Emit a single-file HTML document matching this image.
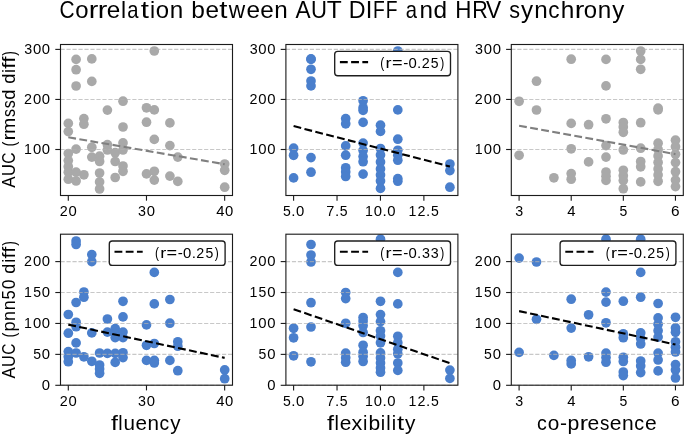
<!DOCTYPE html><html><head><meta charset="utf-8"><style>html,body{margin:0;padding:0;background:#fff;}svg{display:block;will-change:transform;}text{font-family:"Liberation Sans", sans-serif;fill:#000;font-kerning:none;}</style></head><body>
<svg width="685" height="435" viewBox="0 0 685 435">
<rect width="685" height="435" fill="#fff"/>
<g font-size="23.60"><text x="59.44" y="18.10" textLength="15.08" lengthAdjust="spacingAndGlyphs">C</text><text x="75.16" y="18.10" textLength="13.30" lengthAdjust="spacingAndGlyphs">o</text><text x="88.84" y="18.10" textLength="9.60" lengthAdjust="spacingAndGlyphs">r</text><text x="97.82" y="18.10" textLength="9.60" lengthAdjust="spacingAndGlyphs">r</text><text x="106.76" y="18.10" textLength="13.51" lengthAdjust="spacingAndGlyphs">e</text><text x="120.91" y="18.10" textLength="5.11" lengthAdjust="spacingAndGlyphs">l</text><text x="127.15" y="18.10" textLength="11.25" lengthAdjust="spacingAndGlyphs">a</text><text x="140.68" y="18.10" textLength="8.20" lengthAdjust="spacingAndGlyphs">t</text><text x="149.89" y="18.10" textLength="5.11" lengthAdjust="spacingAndGlyphs">i</text><text x="155.87" y="18.10" textLength="13.30" lengthAdjust="spacingAndGlyphs">o</text><text x="169.85" y="18.10" textLength="13.48" lengthAdjust="spacingAndGlyphs">n</text><text x="191.39" y="18.10" textLength="13.61" lengthAdjust="spacingAndGlyphs">b</text><text x="205.43" y="18.10" textLength="13.51" lengthAdjust="spacingAndGlyphs">e</text><text x="219.23" y="18.10" textLength="8.20" lengthAdjust="spacingAndGlyphs">t</text><text x="228.84" y="18.10" textLength="16.42" lengthAdjust="spacingAndGlyphs">w</text><text x="246.54" y="18.10" textLength="13.51" lengthAdjust="spacingAndGlyphs">e</text><text x="260.33" y="18.10" textLength="13.51" lengthAdjust="spacingAndGlyphs">e</text><text x="274.34" y="18.10" textLength="13.48" lengthAdjust="spacingAndGlyphs">n</text><text x="295.54" y="18.10" textLength="15.11" lengthAdjust="spacingAndGlyphs">A</text><text x="311.09" y="18.10" textLength="15.96" lengthAdjust="spacingAndGlyphs">U</text><text x="326.67" y="18.10" textLength="14.98" lengthAdjust="spacingAndGlyphs">T</text><text x="348.71" y="18.10" textLength="16.80" lengthAdjust="spacingAndGlyphs">D</text><text x="365.76" y="18.10" textLength="6.61" lengthAdjust="spacingAndGlyphs">I</text><text x="372.95" y="18.10" textLength="11.77" lengthAdjust="spacingAndGlyphs">F</text><text x="385.85" y="18.10" textLength="11.77" lengthAdjust="spacingAndGlyphs">F</text><text x="405.83" y="18.10" textLength="11.25" lengthAdjust="spacingAndGlyphs">a</text><text x="419.56" y="18.10" textLength="13.48" lengthAdjust="spacingAndGlyphs">n</text><text x="433.64" y="18.10" textLength="13.59" lengthAdjust="spacingAndGlyphs">d</text><text x="455.30" y="18.10" textLength="16.16" lengthAdjust="spacingAndGlyphs">H</text><text x="472.20" y="18.10" textLength="15.53" lengthAdjust="spacingAndGlyphs">R</text><text x="486.12" y="18.10" textLength="15.22" lengthAdjust="spacingAndGlyphs">V</text><text x="509.31" y="18.10" textLength="10.78" lengthAdjust="spacingAndGlyphs">s</text><text x="521.07" y="18.10" textLength="12.08" lengthAdjust="spacingAndGlyphs">y</text><text x="534.17" y="18.10" textLength="13.48" lengthAdjust="spacingAndGlyphs">n</text><text x="548.31" y="18.10" textLength="11.28" lengthAdjust="spacingAndGlyphs">c</text><text x="560.78" y="18.10" textLength="13.58" lengthAdjust="spacingAndGlyphs">h</text><text x="574.85" y="18.10" textLength="9.60" lengthAdjust="spacingAndGlyphs">r</text><text x="583.82" y="18.10" textLength="13.30" lengthAdjust="spacingAndGlyphs">o</text><text x="597.80" y="18.10" textLength="13.48" lengthAdjust="spacingAndGlyphs">n</text><text x="612.27" y="18.10" textLength="12.08" lengthAdjust="spacingAndGlyphs">y</text></g>
<g font-size="17.70" transform="rotate(-90)"><text x="-187.63" y="14.60" textLength="11.29" lengthAdjust="spacingAndGlyphs">A</text><text x="-176.08" y="14.60" textLength="11.93" lengthAdjust="spacingAndGlyphs">U</text><text x="-163.76" y="14.60" textLength="11.27" lengthAdjust="spacingAndGlyphs">C</text><text x="-146.46" y="14.60" textLength="4.73" lengthAdjust="spacingAndGlyphs">(</text><text x="-140.50" y="14.60" textLength="7.17" lengthAdjust="spacingAndGlyphs">r</text><text x="-133.66" y="14.60" textLength="15.95" lengthAdjust="spacingAndGlyphs">m</text><text x="-117.07" y="14.60" textLength="8.05" lengthAdjust="spacingAndGlyphs">s</text><text x="-108.25" y="14.60" textLength="8.05" lengthAdjust="spacingAndGlyphs">s</text><text x="-99.73" y="14.60" textLength="10.16" lengthAdjust="spacingAndGlyphs">d</text><text x="-83.85" y="14.60" textLength="10.16" lengthAdjust="spacingAndGlyphs">d</text><text x="-72.99" y="14.60" textLength="3.82" lengthAdjust="spacingAndGlyphs">i</text><text x="-68.69" y="14.60" textLength="6.13" lengthAdjust="spacingAndGlyphs">f</text><text x="-62.76" y="14.60" textLength="6.13" lengthAdjust="spacingAndGlyphs">f</text><text x="-55.65" y="14.60" textLength="4.73" lengthAdjust="spacingAndGlyphs">)</text></g>
<g font-size="17.70" transform="rotate(-90)"><text x="-378.53" y="14.60" textLength="11.23" lengthAdjust="spacingAndGlyphs">A</text><text x="-367.04" y="14.60" textLength="11.86" lengthAdjust="spacingAndGlyphs">U</text><text x="-354.79" y="14.60" textLength="11.20" lengthAdjust="spacingAndGlyphs">C</text><text x="-337.59" y="14.60" textLength="4.72" lengthAdjust="spacingAndGlyphs">(</text><text x="-331.40" y="14.60" textLength="10.11" lengthAdjust="spacingAndGlyphs">p</text><text x="-320.90" y="14.60" textLength="10.02" lengthAdjust="spacingAndGlyphs">n</text><text x="-310.37" y="14.60" textLength="10.02" lengthAdjust="spacingAndGlyphs">n</text><text x="-299.54" y="14.60" textLength="9.25" lengthAdjust="spacingAndGlyphs">5</text><text x="-289.22" y="14.60" textLength="9.80" lengthAdjust="spacingAndGlyphs">0</text><text x="-273.68" y="14.60" textLength="10.10" lengthAdjust="spacingAndGlyphs">d</text><text x="-262.87" y="14.60" textLength="3.80" lengthAdjust="spacingAndGlyphs">i</text><text x="-258.59" y="14.60" textLength="6.10" lengthAdjust="spacingAndGlyphs">f</text><text x="-252.70" y="14.60" textLength="6.10" lengthAdjust="spacingAndGlyphs">f</text><text x="-245.63" y="14.60" textLength="4.72" lengthAdjust="spacingAndGlyphs">)</text></g>
<g font-size="20.60"><text x="111.04" y="429.80" textLength="6.99" lengthAdjust="spacingAndGlyphs">f</text><text x="118.34" y="429.80" textLength="4.35" lengthAdjust="spacingAndGlyphs">l</text><text x="123.56" y="429.80" textLength="11.49" lengthAdjust="spacingAndGlyphs">u</text><text x="135.52" y="429.80" textLength="11.51" lengthAdjust="spacingAndGlyphs">e</text><text x="147.54" y="429.80" textLength="11.49" lengthAdjust="spacingAndGlyphs">n</text><text x="159.48" y="429.80" textLength="9.61" lengthAdjust="spacingAndGlyphs">c</text><text x="170.35" y="429.80" textLength="10.29" lengthAdjust="spacingAndGlyphs">y</text></g>
<g font-size="20.60"><text x="327.14" y="429.80" textLength="7.07" lengthAdjust="spacingAndGlyphs">f</text><text x="334.52" y="429.80" textLength="4.40" lengthAdjust="spacingAndGlyphs">l</text><text x="339.69" y="429.80" textLength="11.64" lengthAdjust="spacingAndGlyphs">e</text><text x="351.41" y="429.80" textLength="10.75" lengthAdjust="spacingAndGlyphs">x</text><text x="363.06" y="429.80" textLength="4.40" lengthAdjust="spacingAndGlyphs">i</text><text x="368.44" y="429.80" textLength="11.72" lengthAdjust="spacingAndGlyphs">b</text><text x="380.87" y="429.80" textLength="4.40" lengthAdjust="spacingAndGlyphs">i</text><text x="386.34" y="429.80" textLength="4.40" lengthAdjust="spacingAndGlyphs">l</text><text x="391.83" y="429.80" textLength="4.40" lengthAdjust="spacingAndGlyphs">i</text><text x="396.96" y="429.80" textLength="7.15" lengthAdjust="spacingAndGlyphs">t</text><text x="404.94" y="429.80" textLength="10.40" lengthAdjust="spacingAndGlyphs">y</text></g>
<g font-size="20.60"><text x="536.97" y="429.80" textLength="9.81" lengthAdjust="spacingAndGlyphs">c</text><text x="547.74" y="429.80" textLength="11.56" lengthAdjust="spacingAndGlyphs">o</text><text x="559.99" y="429.80" textLength="7.02" lengthAdjust="spacingAndGlyphs">-</text><text x="567.54" y="429.80" textLength="11.83" lengthAdjust="spacingAndGlyphs">p</text><text x="579.69" y="429.80" textLength="8.34" lengthAdjust="spacingAndGlyphs">r</text><text x="587.55" y="429.80" textLength="11.74" lengthAdjust="spacingAndGlyphs">e</text><text x="599.98" y="429.80" textLength="9.37" lengthAdjust="spacingAndGlyphs">s</text><text x="609.80" y="429.80" textLength="11.74" lengthAdjust="spacingAndGlyphs">e</text><text x="622.06" y="429.80" textLength="11.72" lengthAdjust="spacingAndGlyphs">n</text><text x="634.25" y="429.80" textLength="9.81" lengthAdjust="spacingAndGlyphs">c</text><text x="644.99" y="429.80" textLength="11.74" lengthAdjust="spacingAndGlyphs">e</text></g>
<clipPath id="c00"><rect x="60.50" y="44.50" width="172.00" height="151.00"/></clipPath>
<g clip-path="url(#c00)" fill="#a9a9a9"><circle cx="76.1" cy="59.4" r="4.85"/><circle cx="91.8" cy="58.9" r="4.85"/><circle cx="76.1" cy="69.7" r="4.85"/><circle cx="91.8" cy="81.4" r="4.85"/><circle cx="76.1" cy="86.0" r="4.85"/><circle cx="123.0" cy="101.2" r="4.85"/><circle cx="107.4" cy="110.1" r="4.85"/><circle cx="154.3" cy="51.0" r="4.85"/><circle cx="154.3" cy="109.9" r="4.85"/><circle cx="146.5" cy="107.8" r="4.85"/><circle cx="68.3" cy="123.4" r="4.85"/><circle cx="68.3" cy="131.6" r="4.85"/><circle cx="83.9" cy="118.6" r="4.85"/><circle cx="83.9" cy="124.2" r="4.85"/><circle cx="68.3" cy="153.5" r="4.85"/><circle cx="68.3" cy="160.6" r="4.85"/><circle cx="68.3" cy="166.8" r="4.85"/><circle cx="68.3" cy="172.2" r="4.85"/><circle cx="68.3" cy="179.2" r="4.85"/><circle cx="76.1" cy="149.1" r="4.85"/><circle cx="76.1" cy="172.2" r="4.85"/><circle cx="76.1" cy="181.0" r="4.85"/><circle cx="83.9" cy="174.8" r="4.85"/><circle cx="91.8" cy="147.3" r="4.85"/><circle cx="91.8" cy="157.1" r="4.85"/><circle cx="99.6" cy="156.2" r="4.85"/><circle cx="99.6" cy="161.5" r="4.85"/><circle cx="99.6" cy="173.0" r="4.85"/><circle cx="99.6" cy="181.9" r="4.85"/><circle cx="99.6" cy="189.0" r="4.85"/><circle cx="107.4" cy="144.7" r="4.85"/><circle cx="107.4" cy="150.0" r="4.85"/><circle cx="115.2" cy="152.7" r="4.85"/><circle cx="115.2" cy="161.5" r="4.85"/><circle cx="115.2" cy="177.5" r="4.85"/><circle cx="123.0" cy="127.0" r="4.85"/><circle cx="123.0" cy="142.9" r="4.85"/><circle cx="123.0" cy="150.0" r="4.85"/><circle cx="123.0" cy="166.0" r="4.85"/><circle cx="123.0" cy="171.3" r="4.85"/><circle cx="146.5" cy="122.2" r="4.85"/><circle cx="146.5" cy="173.9" r="4.85"/><circle cx="169.9" cy="122.9" r="4.85"/><circle cx="154.3" cy="139.4" r="4.85"/><circle cx="169.9" cy="145.6" r="4.85"/><circle cx="177.8" cy="157.1" r="4.85"/><circle cx="224.7" cy="164.0" r="4.85"/><circle cx="224.7" cy="170.3" r="4.85"/><circle cx="154.3" cy="171.3" r="4.85"/><circle cx="154.3" cy="180.1" r="4.85"/><circle cx="169.9" cy="176.1" r="4.85"/><circle cx="177.8" cy="181.4" r="4.85"/><circle cx="224.7" cy="187.2" r="4.85"/></g>
<line x1="60.50" y1="149.50" x2="232.50" y2="149.50" stroke="#b0b0b0" stroke-opacity="0.7" stroke-width="1.1" stroke-dasharray="4.18 1.803"/>
<line x1="60.50" y1="99.45" x2="232.50" y2="99.45" stroke="#b0b0b0" stroke-opacity="0.7" stroke-width="1.1" stroke-dasharray="4.18 1.803"/>
<line x1="60.50" y1="49.40" x2="232.50" y2="49.40" stroke="#b0b0b0" stroke-opacity="0.7" stroke-width="1.1" stroke-dasharray="4.18 1.803"/>
<line x1="68.30" y1="137.30" x2="224.66" y2="164.20" stroke="#808080" stroke-width="2.1" stroke-dasharray="7.83 3.39" clip-path="url(#c00)"/>
<rect x="60.50" y="44.50" width="172.00" height="151.00" fill="none" stroke="#1c1c1c" stroke-width="1.12"/>
<line x1="68.30" y1="195.50" x2="68.30" y2="200.70" stroke="#1c1c1c" stroke-width="1.12"/>
<g font-size="15.10"><text x="59.63" y="215.70" textLength="7.97" lengthAdjust="spacingAndGlyphs">2</text><text x="68.56" y="215.70" textLength="8.27" lengthAdjust="spacingAndGlyphs">0</text></g>
<line x1="146.48" y1="195.50" x2="146.48" y2="200.70" stroke="#1c1c1c" stroke-width="1.12"/>
<g font-size="15.10"><text x="138.01" y="215.70" textLength="7.94" lengthAdjust="spacingAndGlyphs">3</text><text x="146.72" y="215.70" textLength="8.27" lengthAdjust="spacingAndGlyphs">0</text></g>
<line x1="224.66" y1="195.50" x2="224.66" y2="200.70" stroke="#1c1c1c" stroke-width="1.12"/>
<g font-size="15.10"><text x="216.20" y="215.70" textLength="8.27" lengthAdjust="spacingAndGlyphs">4</text><text x="225.09" y="215.70" textLength="8.27" lengthAdjust="spacingAndGlyphs">0</text></g>
<line x1="55.30" y1="149.50" x2="60.50" y2="149.50" stroke="#1c1c1c" stroke-width="1.12"/>
<g font-size="15.10"><text x="24.07" y="154.20" textLength="7.90" lengthAdjust="spacingAndGlyphs">1</text><text x="32.97" y="154.20" textLength="8.27" lengthAdjust="spacingAndGlyphs">0</text><text x="41.86" y="154.20" textLength="8.27" lengthAdjust="spacingAndGlyphs">0</text></g>
<line x1="55.30" y1="99.45" x2="60.50" y2="99.45" stroke="#1c1c1c" stroke-width="1.12"/>
<g font-size="15.10"><text x="24.04" y="104.15" textLength="7.97" lengthAdjust="spacingAndGlyphs">2</text><text x="32.97" y="104.15" textLength="8.27" lengthAdjust="spacingAndGlyphs">0</text><text x="41.86" y="104.15" textLength="8.27" lengthAdjust="spacingAndGlyphs">0</text></g>
<line x1="55.30" y1="49.40" x2="60.50" y2="49.40" stroke="#1c1c1c" stroke-width="1.12"/>
<g font-size="15.10"><text x="24.26" y="54.10" textLength="7.94" lengthAdjust="spacingAndGlyphs">3</text><text x="32.97" y="54.10" textLength="8.27" lengthAdjust="spacingAndGlyphs">0</text><text x="41.86" y="54.10" textLength="8.27" lengthAdjust="spacingAndGlyphs">0</text></g>
<clipPath id="c01"><rect x="285.90" y="44.50" width="172.00" height="151.00"/></clipPath>
<g clip-path="url(#c01)" fill="#4a7fcc"><circle cx="293.6" cy="148.2" r="4.85"/><circle cx="293.6" cy="155.3" r="4.85"/><circle cx="293.6" cy="177.9" r="4.85"/><circle cx="311.0" cy="58.9" r="4.85"/><circle cx="311.0" cy="59.4" r="4.85"/><circle cx="311.0" cy="69.3" r="4.85"/><circle cx="311.0" cy="81.0" r="4.85"/><circle cx="311.0" cy="85.9" r="4.85"/><circle cx="311.0" cy="157.6" r="4.85"/><circle cx="311.0" cy="172.2" r="4.85"/><circle cx="345.7" cy="118.6" r="4.85"/><circle cx="345.7" cy="123.8" r="4.85"/><circle cx="345.7" cy="145.9" r="4.85"/><circle cx="345.7" cy="155.2" r="4.85"/><circle cx="345.7" cy="167.8" r="4.85"/><circle cx="345.7" cy="172.0" r="4.85"/><circle cx="345.7" cy="176.5" r="4.85"/><circle cx="363.1" cy="100.8" r="4.85"/><circle cx="363.1" cy="107.8" r="4.85"/><circle cx="363.1" cy="110.4" r="4.85"/><circle cx="363.1" cy="122.4" r="4.85"/><circle cx="363.1" cy="143.1" r="4.85"/><circle cx="363.1" cy="150.5" r="4.85"/><circle cx="363.1" cy="156.6" r="4.85"/><circle cx="363.1" cy="161.7" r="4.85"/><circle cx="363.1" cy="174.1" r="4.85"/><circle cx="380.5" cy="125.2" r="4.85"/><circle cx="380.5" cy="131.4" r="4.85"/><circle cx="380.5" cy="148.5" r="4.85"/><circle cx="380.5" cy="155.0" r="4.85"/><circle cx="380.5" cy="162.0" r="4.85"/><circle cx="380.5" cy="169.0" r="4.85"/><circle cx="380.5" cy="175.0" r="4.85"/><circle cx="380.5" cy="181.0" r="4.85"/><circle cx="380.5" cy="188.4" r="4.85"/><circle cx="397.8" cy="51.0" r="4.85"/><circle cx="397.8" cy="109.9" r="4.85"/><circle cx="397.8" cy="139.2" r="4.85"/><circle cx="397.8" cy="150.3" r="4.85"/><circle cx="397.8" cy="155.2" r="4.85"/><circle cx="397.8" cy="160.2" r="4.85"/><circle cx="397.8" cy="178.6" r="4.85"/><circle cx="397.8" cy="181.2" r="4.85"/><circle cx="449.9" cy="164.0" r="4.85"/><circle cx="449.9" cy="170.6" r="4.85"/><circle cx="449.9" cy="187.2" r="4.85"/></g>
<line x1="285.90" y1="149.50" x2="457.90" y2="149.50" stroke="#b0b0b0" stroke-opacity="0.7" stroke-width="1.1" stroke-dasharray="4.18 1.803"/>
<line x1="285.90" y1="99.45" x2="457.90" y2="99.45" stroke="#b0b0b0" stroke-opacity="0.7" stroke-width="1.1" stroke-dasharray="4.18 1.803"/>
<line x1="285.90" y1="49.40" x2="457.90" y2="49.40" stroke="#b0b0b0" stroke-opacity="0.7" stroke-width="1.1" stroke-dasharray="4.18 1.803"/>
<line x1="293.60" y1="126.10" x2="449.93" y2="166.50" stroke="#000" stroke-width="2.1" stroke-dasharray="7.83 3.39" clip-path="url(#c01)"/>
<rect x="285.90" y="44.50" width="172.00" height="151.00" fill="none" stroke="#1c1c1c" stroke-width="1.12"/>
<line x1="293.60" y1="195.50" x2="293.60" y2="200.70" stroke="#1c1c1c" stroke-width="1.12"/>
<g font-size="15.10"><text x="282.89" y="215.70" textLength="7.81" lengthAdjust="spacingAndGlyphs">5</text><text x="291.37" y="215.70" textLength="4.24" lengthAdjust="spacingAndGlyphs">.</text><text x="296.05" y="215.70" textLength="8.27" lengthAdjust="spacingAndGlyphs">0</text></g>
<line x1="337.03" y1="195.50" x2="337.03" y2="200.70" stroke="#1c1c1c" stroke-width="1.12"/>
<g font-size="15.10"><text x="326.32" y="215.70" textLength="8.09" lengthAdjust="spacingAndGlyphs">7</text><text x="334.91" y="215.70" textLength="4.24" lengthAdjust="spacingAndGlyphs">.</text><text x="339.77" y="215.70" textLength="7.81" lengthAdjust="spacingAndGlyphs">5</text></g>
<line x1="380.45" y1="195.50" x2="380.45" y2="200.70" stroke="#1c1c1c" stroke-width="1.12"/>
<g font-size="15.10"><text x="364.95" y="215.70" textLength="7.90" lengthAdjust="spacingAndGlyphs">1</text><text x="373.84" y="215.70" textLength="8.27" lengthAdjust="spacingAndGlyphs">0</text><text x="382.50" y="215.70" textLength="4.24" lengthAdjust="spacingAndGlyphs">.</text><text x="387.18" y="215.70" textLength="8.27" lengthAdjust="spacingAndGlyphs">0</text></g>
<line x1="423.88" y1="195.50" x2="423.88" y2="200.70" stroke="#1c1c1c" stroke-width="1.12"/>
<g font-size="15.10"><text x="408.52" y="215.70" textLength="7.90" lengthAdjust="spacingAndGlyphs">1</text><text x="417.38" y="215.70" textLength="7.97" lengthAdjust="spacingAndGlyphs">2</text><text x="426.07" y="215.70" textLength="4.24" lengthAdjust="spacingAndGlyphs">.</text><text x="430.93" y="215.70" textLength="7.81" lengthAdjust="spacingAndGlyphs">5</text></g>
<line x1="280.70" y1="149.50" x2="285.90" y2="149.50" stroke="#1c1c1c" stroke-width="1.12"/>
<g font-size="15.10"><text x="249.47" y="154.20" textLength="7.90" lengthAdjust="spacingAndGlyphs">1</text><text x="258.37" y="154.20" textLength="8.27" lengthAdjust="spacingAndGlyphs">0</text><text x="267.26" y="154.20" textLength="8.27" lengthAdjust="spacingAndGlyphs">0</text></g>
<line x1="280.70" y1="99.45" x2="285.90" y2="99.45" stroke="#1c1c1c" stroke-width="1.12"/>
<g font-size="15.10"><text x="249.44" y="104.15" textLength="7.97" lengthAdjust="spacingAndGlyphs">2</text><text x="258.37" y="104.15" textLength="8.27" lengthAdjust="spacingAndGlyphs">0</text><text x="267.26" y="104.15" textLength="8.27" lengthAdjust="spacingAndGlyphs">0</text></g>
<line x1="280.70" y1="49.40" x2="285.90" y2="49.40" stroke="#1c1c1c" stroke-width="1.12"/>
<g font-size="15.10"><text x="249.66" y="54.10" textLength="7.94" lengthAdjust="spacingAndGlyphs">3</text><text x="258.37" y="54.10" textLength="8.27" lengthAdjust="spacingAndGlyphs">0</text><text x="267.26" y="54.10" textLength="8.27" lengthAdjust="spacingAndGlyphs">0</text></g>
<rect x="334.70" y="51.30" width="115.80" height="24.40" rx="3" ry="3" fill="#fff" stroke="#1e1e1e" stroke-width="1.35"/>
<line x1="339.90" y1="62.10" x2="368.10" y2="62.10" stroke="#000" stroke-width="2.1" stroke-dasharray="7.83 3.39"/>
<g font-size="15.10"><text x="380.33" y="67.90" textLength="4.02" lengthAdjust="spacingAndGlyphs">(</text><text x="385.56" y="67.90" textLength="6.02" lengthAdjust="spacingAndGlyphs">r</text><text x="391.93" y="67.90" textLength="10.62" lengthAdjust="spacingAndGlyphs">=</text><text x="403.15" y="67.90" textLength="5.07" lengthAdjust="spacingAndGlyphs">-</text><text x="408.44" y="67.90" textLength="8.27" lengthAdjust="spacingAndGlyphs">0</text><text x="417.09" y="67.90" textLength="4.24" lengthAdjust="spacingAndGlyphs">.</text><text x="421.74" y="67.90" textLength="7.98" lengthAdjust="spacingAndGlyphs">2</text><text x="430.84" y="67.90" textLength="7.81" lengthAdjust="spacingAndGlyphs">5</text><text x="440.25" y="67.90" textLength="4.02" lengthAdjust="spacingAndGlyphs">)</text></g>
<clipPath id="c02"><rect x="511.30" y="44.50" width="172.00" height="151.00"/></clipPath>
<g clip-path="url(#c02)" fill="#a9a9a9"><circle cx="571.2" cy="59.2" r="4.85"/><circle cx="536.5" cy="81.2" r="4.85"/><circle cx="519.1" cy="101.3" r="4.85"/><circle cx="536.5" cy="110.0" r="4.85"/><circle cx="606.0" cy="59.4" r="4.85"/><circle cx="640.7" cy="51.0" r="4.85"/><circle cx="640.7" cy="59.4" r="4.85"/><circle cx="640.7" cy="69.3" r="4.85"/><circle cx="606.0" cy="85.9" r="4.85"/><circle cx="658.1" cy="108.2" r="4.85"/><circle cx="658.1" cy="109.9" r="4.85"/><circle cx="571.2" cy="123.4" r="4.85"/><circle cx="588.6" cy="124.7" r="4.85"/><circle cx="571.2" cy="148.8" r="4.85"/><circle cx="519.1" cy="155.3" r="4.85"/><circle cx="588.6" cy="161.9" r="4.85"/><circle cx="553.9" cy="177.8" r="4.85"/><circle cx="571.2" cy="173.6" r="4.85"/><circle cx="571.2" cy="179.2" r="4.85"/><circle cx="606.0" cy="118.8" r="4.85"/><circle cx="606.0" cy="145.6" r="4.85"/><circle cx="606.0" cy="157.1" r="4.85"/><circle cx="606.0" cy="172.0" r="4.85"/><circle cx="606.0" cy="176.3" r="4.85"/><circle cx="606.0" cy="180.4" r="4.85"/><circle cx="623.3" cy="122.5" r="4.85"/><circle cx="623.3" cy="127.0" r="4.85"/><circle cx="623.3" cy="132.3" r="4.85"/><circle cx="623.3" cy="150.0" r="4.85"/><circle cx="623.3" cy="170.3" r="4.85"/><circle cx="623.3" cy="175.7" r="4.85"/><circle cx="623.3" cy="180.6" r="4.85"/><circle cx="623.3" cy="188.7" r="4.85"/><circle cx="640.7" cy="122.7" r="4.85"/><circle cx="640.7" cy="148.2" r="4.85"/><circle cx="640.7" cy="161.5" r="4.85"/><circle cx="640.7" cy="166.8" r="4.85"/><circle cx="640.7" cy="181.9" r="4.85"/><circle cx="658.1" cy="143.2" r="4.85"/><circle cx="658.1" cy="149.5" r="4.85"/><circle cx="658.1" cy="156.0" r="4.85"/><circle cx="658.1" cy="162.5" r="4.85"/><circle cx="658.1" cy="169.0" r="4.85"/><circle cx="658.1" cy="175.0" r="4.85"/><circle cx="658.1" cy="181.3" r="4.85"/><circle cx="675.5" cy="140.2" r="4.85"/><circle cx="675.5" cy="146.7" r="4.85"/><circle cx="675.5" cy="154.3" r="4.85"/><circle cx="675.5" cy="162.6" r="4.85"/><circle cx="675.5" cy="171.7" r="4.85"/><circle cx="675.5" cy="180.1" r="4.85"/><circle cx="675.5" cy="186.6" r="4.85"/></g>
<line x1="511.30" y1="149.50" x2="683.30" y2="149.50" stroke="#b0b0b0" stroke-opacity="0.7" stroke-width="1.1" stroke-dasharray="4.18 1.803"/>
<line x1="511.30" y1="99.45" x2="683.30" y2="99.45" stroke="#b0b0b0" stroke-opacity="0.7" stroke-width="1.1" stroke-dasharray="4.18 1.803"/>
<line x1="511.30" y1="49.40" x2="683.30" y2="49.40" stroke="#b0b0b0" stroke-opacity="0.7" stroke-width="1.1" stroke-dasharray="4.18 1.803"/>
<line x1="519.10" y1="125.70" x2="675.46" y2="154.10" stroke="#808080" stroke-width="2.1" stroke-dasharray="7.83 3.39" clip-path="url(#c02)"/>
<rect x="511.30" y="44.50" width="172.00" height="151.00" fill="none" stroke="#1c1c1c" stroke-width="1.12"/>
<line x1="519.10" y1="195.50" x2="519.10" y2="200.70" stroke="#1c1c1c" stroke-width="1.12"/>
<g font-size="15.10"><text x="515.17" y="215.70" textLength="7.94" lengthAdjust="spacingAndGlyphs">3</text></g>
<line x1="571.22" y1="195.50" x2="571.22" y2="200.70" stroke="#1c1c1c" stroke-width="1.12"/>
<g font-size="15.10"><text x="567.13" y="215.70" textLength="8.27" lengthAdjust="spacingAndGlyphs">4</text></g>
<line x1="623.34" y1="195.50" x2="623.34" y2="200.70" stroke="#1c1c1c" stroke-width="1.12"/>
<g font-size="15.10"><text x="619.45" y="215.70" textLength="7.81" lengthAdjust="spacingAndGlyphs">5</text></g>
<line x1="675.46" y1="195.50" x2="675.46" y2="200.70" stroke="#1c1c1c" stroke-width="1.12"/>
<g font-size="15.10"><text x="671.13" y="215.70" textLength="8.56" lengthAdjust="spacingAndGlyphs">6</text></g>
<line x1="506.10" y1="149.50" x2="511.30" y2="149.50" stroke="#1c1c1c" stroke-width="1.12"/>
<g font-size="15.10"><text x="474.87" y="154.20" textLength="7.90" lengthAdjust="spacingAndGlyphs">1</text><text x="483.77" y="154.20" textLength="8.27" lengthAdjust="spacingAndGlyphs">0</text><text x="492.66" y="154.20" textLength="8.27" lengthAdjust="spacingAndGlyphs">0</text></g>
<line x1="506.10" y1="99.45" x2="511.30" y2="99.45" stroke="#1c1c1c" stroke-width="1.12"/>
<g font-size="15.10"><text x="474.84" y="104.15" textLength="7.97" lengthAdjust="spacingAndGlyphs">2</text><text x="483.77" y="104.15" textLength="8.27" lengthAdjust="spacingAndGlyphs">0</text><text x="492.66" y="104.15" textLength="8.27" lengthAdjust="spacingAndGlyphs">0</text></g>
<line x1="506.10" y1="49.40" x2="511.30" y2="49.40" stroke="#1c1c1c" stroke-width="1.12"/>
<g font-size="15.10"><text x="475.06" y="54.10" textLength="7.94" lengthAdjust="spacingAndGlyphs">3</text><text x="483.77" y="54.10" textLength="8.27" lengthAdjust="spacingAndGlyphs">0</text><text x="492.66" y="54.10" textLength="8.27" lengthAdjust="spacingAndGlyphs">0</text></g>
<clipPath id="c10"><rect x="60.50" y="234.20" width="172.00" height="151.00"/></clipPath>
<g clip-path="url(#c10)" fill="#4a7fcc"><circle cx="76.1" cy="241.0" r="4.85"/><circle cx="76.1" cy="244.5" r="4.85"/><circle cx="91.8" cy="254.6" r="4.85"/><circle cx="91.8" cy="261.6" r="4.85"/><circle cx="83.9" cy="292.0" r="4.85"/><circle cx="83.9" cy="297.2" r="4.85"/><circle cx="76.1" cy="302.5" r="4.85"/><circle cx="123.0" cy="301.3" r="4.85"/><circle cx="154.3" cy="272.4" r="4.85"/><circle cx="154.3" cy="303.9" r="4.85"/><circle cx="169.9" cy="299.5" r="4.85"/><circle cx="68.3" cy="314.5" r="4.85"/><circle cx="68.3" cy="333.2" r="4.85"/><circle cx="68.3" cy="351.6" r="4.85"/><circle cx="68.3" cy="356.8" r="4.85"/><circle cx="68.3" cy="361.7" r="4.85"/><circle cx="76.1" cy="322.3" r="4.85"/><circle cx="76.1" cy="326.7" r="4.85"/><circle cx="76.1" cy="342.9" r="4.85"/><circle cx="76.1" cy="353.0" r="4.85"/><circle cx="83.9" cy="356.8" r="4.85"/><circle cx="91.8" cy="332.9" r="4.85"/><circle cx="91.8" cy="361.3" r="4.85"/><circle cx="99.6" cy="353.0" r="4.85"/><circle cx="99.6" cy="365.0" r="4.85"/><circle cx="99.6" cy="369.0" r="4.85"/><circle cx="99.6" cy="373.3" r="4.85"/><circle cx="107.4" cy="319.0" r="4.85"/><circle cx="107.4" cy="332.1" r="4.85"/><circle cx="107.4" cy="353.4" r="4.85"/><circle cx="115.2" cy="328.6" r="4.85"/><circle cx="115.2" cy="334.1" r="4.85"/><circle cx="115.2" cy="337.6" r="4.85"/><circle cx="115.2" cy="353.4" r="4.85"/><circle cx="115.2" cy="362.4" r="4.85"/><circle cx="123.0" cy="316.9" r="4.85"/><circle cx="123.0" cy="332.1" r="4.85"/><circle cx="123.0" cy="337.6" r="4.85"/><circle cx="123.0" cy="352.8" r="4.85"/><circle cx="123.0" cy="357.6" r="4.85"/><circle cx="146.5" cy="324.9" r="4.85"/><circle cx="146.5" cy="345.3" r="4.85"/><circle cx="146.5" cy="360.4" r="4.85"/><circle cx="154.3" cy="343.5" r="4.85"/><circle cx="154.3" cy="360.4" r="4.85"/><circle cx="154.3" cy="363.0" r="4.85"/><circle cx="169.9" cy="323.2" r="4.85"/><circle cx="169.9" cy="360.4" r="4.85"/><circle cx="177.8" cy="341.8" r="4.85"/><circle cx="177.8" cy="346.2" r="4.85"/><circle cx="177.8" cy="370.7" r="4.85"/><circle cx="224.7" cy="369.9" r="4.85"/><circle cx="224.7" cy="378.7" r="4.85"/></g>
<line x1="60.50" y1="385.30" x2="232.50" y2="385.30" stroke="#b0b0b0" stroke-opacity="0.7" stroke-width="1.1" stroke-dasharray="4.18 1.803"/>
<line x1="60.50" y1="354.38" x2="232.50" y2="354.38" stroke="#b0b0b0" stroke-opacity="0.7" stroke-width="1.1" stroke-dasharray="4.18 1.803"/>
<line x1="60.50" y1="323.45" x2="232.50" y2="323.45" stroke="#b0b0b0" stroke-opacity="0.7" stroke-width="1.1" stroke-dasharray="4.18 1.803"/>
<line x1="60.50" y1="292.52" x2="232.50" y2="292.52" stroke="#b0b0b0" stroke-opacity="0.7" stroke-width="1.1" stroke-dasharray="4.18 1.803"/>
<line x1="60.50" y1="261.60" x2="232.50" y2="261.60" stroke="#b0b0b0" stroke-opacity="0.7" stroke-width="1.1" stroke-dasharray="4.18 1.803"/>
<line x1="68.30" y1="324.60" x2="224.66" y2="357.90" stroke="#000" stroke-width="2.1" stroke-dasharray="7.83 3.39" clip-path="url(#c10)"/>
<rect x="60.50" y="234.20" width="172.00" height="151.00" fill="none" stroke="#1c1c1c" stroke-width="1.12"/>
<line x1="68.30" y1="385.20" x2="68.30" y2="390.40" stroke="#1c1c1c" stroke-width="1.12"/>
<g font-size="15.10"><text x="59.63" y="406.10" textLength="7.97" lengthAdjust="spacingAndGlyphs">2</text><text x="68.56" y="406.10" textLength="8.27" lengthAdjust="spacingAndGlyphs">0</text></g>
<line x1="146.48" y1="385.20" x2="146.48" y2="390.40" stroke="#1c1c1c" stroke-width="1.12"/>
<g font-size="15.10"><text x="138.01" y="406.10" textLength="7.94" lengthAdjust="spacingAndGlyphs">3</text><text x="146.72" y="406.10" textLength="8.27" lengthAdjust="spacingAndGlyphs">0</text></g>
<line x1="224.66" y1="385.20" x2="224.66" y2="390.40" stroke="#1c1c1c" stroke-width="1.12"/>
<g font-size="15.10"><text x="216.20" y="406.10" textLength="8.27" lengthAdjust="spacingAndGlyphs">4</text><text x="225.09" y="406.10" textLength="8.27" lengthAdjust="spacingAndGlyphs">0</text></g>
<line x1="55.30" y1="385.30" x2="60.50" y2="385.30" stroke="#1c1c1c" stroke-width="1.12"/>
<g font-size="15.10"><text x="41.86" y="390.00" textLength="8.27" lengthAdjust="spacingAndGlyphs">0</text></g>
<line x1="55.30" y1="354.38" x2="60.50" y2="354.38" stroke="#1c1c1c" stroke-width="1.12"/>
<g font-size="15.10"><text x="33.15" y="359.07" textLength="7.81" lengthAdjust="spacingAndGlyphs">5</text><text x="41.86" y="359.07" textLength="8.27" lengthAdjust="spacingAndGlyphs">0</text></g>
<line x1="55.30" y1="323.45" x2="60.50" y2="323.45" stroke="#1c1c1c" stroke-width="1.12"/>
<g font-size="15.10"><text x="24.07" y="328.15" textLength="7.90" lengthAdjust="spacingAndGlyphs">1</text><text x="32.97" y="328.15" textLength="8.27" lengthAdjust="spacingAndGlyphs">0</text><text x="41.86" y="328.15" textLength="8.27" lengthAdjust="spacingAndGlyphs">0</text></g>
<line x1="55.30" y1="292.52" x2="60.50" y2="292.52" stroke="#1c1c1c" stroke-width="1.12"/>
<g font-size="15.10"><text x="24.07" y="297.22" textLength="7.90" lengthAdjust="spacingAndGlyphs">1</text><text x="33.15" y="297.22" textLength="7.81" lengthAdjust="spacingAndGlyphs">5</text><text x="41.86" y="297.22" textLength="8.27" lengthAdjust="spacingAndGlyphs">0</text></g>
<line x1="55.30" y1="261.60" x2="60.50" y2="261.60" stroke="#1c1c1c" stroke-width="1.12"/>
<g font-size="15.10"><text x="24.04" y="266.30" textLength="7.97" lengthAdjust="spacingAndGlyphs">2</text><text x="32.97" y="266.30" textLength="8.27" lengthAdjust="spacingAndGlyphs">0</text><text x="41.86" y="266.30" textLength="8.27" lengthAdjust="spacingAndGlyphs">0</text></g>
<rect x="109.30" y="241.00" width="115.80" height="24.40" rx="3" ry="3" fill="#fff" stroke="#1e1e1e" stroke-width="1.35"/>
<line x1="114.50" y1="251.80" x2="142.70" y2="251.80" stroke="#000" stroke-width="2.1" stroke-dasharray="7.83 3.39"/>
<g font-size="15.10"><text x="154.93" y="257.60" textLength="4.02" lengthAdjust="spacingAndGlyphs">(</text><text x="160.16" y="257.60" textLength="6.02" lengthAdjust="spacingAndGlyphs">r</text><text x="166.53" y="257.60" textLength="10.62" lengthAdjust="spacingAndGlyphs">=</text><text x="177.75" y="257.60" textLength="5.07" lengthAdjust="spacingAndGlyphs">-</text><text x="183.04" y="257.60" textLength="8.27" lengthAdjust="spacingAndGlyphs">0</text><text x="191.69" y="257.60" textLength="4.24" lengthAdjust="spacingAndGlyphs">.</text><text x="196.34" y="257.60" textLength="7.98" lengthAdjust="spacingAndGlyphs">2</text><text x="205.44" y="257.60" textLength="7.81" lengthAdjust="spacingAndGlyphs">5</text><text x="214.85" y="257.60" textLength="4.02" lengthAdjust="spacingAndGlyphs">)</text></g>
<clipPath id="c11"><rect x="285.90" y="234.20" width="172.00" height="151.00"/></clipPath>
<g clip-path="url(#c11)" fill="#4a7fcc"><circle cx="311.0" cy="244.5" r="4.85"/><circle cx="311.0" cy="255.0" r="4.85"/><circle cx="311.0" cy="262.0" r="4.85"/><circle cx="311.0" cy="302.7" r="4.85"/><circle cx="345.7" cy="292.5" r="4.85"/><circle cx="345.7" cy="298.6" r="4.85"/><circle cx="380.5" cy="239.2" r="4.85"/><circle cx="380.5" cy="301.3" r="4.85"/><circle cx="397.8" cy="272.4" r="4.85"/><circle cx="397.8" cy="303.9" r="4.85"/><circle cx="293.6" cy="328.3" r="4.85"/><circle cx="293.6" cy="337.8" r="4.85"/><circle cx="293.6" cy="355.8" r="4.85"/><circle cx="311.0" cy="327.0" r="4.85"/><circle cx="311.0" cy="361.8" r="4.85"/><circle cx="345.7" cy="323.3" r="4.85"/><circle cx="345.7" cy="353.1" r="4.85"/><circle cx="345.7" cy="357.7" r="4.85"/><circle cx="345.7" cy="362.2" r="4.85"/><circle cx="363.1" cy="317.5" r="4.85"/><circle cx="363.1" cy="321.0" r="4.85"/><circle cx="363.1" cy="325.8" r="4.85"/><circle cx="363.1" cy="332.5" r="4.85"/><circle cx="363.1" cy="345.3" r="4.85"/><circle cx="363.1" cy="352.3" r="4.85"/><circle cx="363.1" cy="356.5" r="4.85"/><circle cx="363.1" cy="361.5" r="4.85"/><circle cx="380.5" cy="314.6" r="4.85"/><circle cx="380.5" cy="321.6" r="4.85"/><circle cx="380.5" cy="330.8" r="4.85"/><circle cx="380.5" cy="336.0" r="4.85"/><circle cx="380.5" cy="342.8" r="4.85"/><circle cx="380.5" cy="352.9" r="4.85"/><circle cx="380.5" cy="358.0" r="4.85"/><circle cx="380.5" cy="363.0" r="4.85"/><circle cx="380.5" cy="368.0" r="4.85"/><circle cx="380.5" cy="372.2" r="4.85"/><circle cx="397.8" cy="336.3" r="4.85"/><circle cx="397.8" cy="342.8" r="4.85"/><circle cx="397.8" cy="349.2" r="4.85"/><circle cx="397.8" cy="353.8" r="4.85"/><circle cx="397.8" cy="363.0" r="4.85"/><circle cx="397.8" cy="370.4" r="4.85"/><circle cx="449.9" cy="370.1" r="4.85"/><circle cx="449.9" cy="378.4" r="4.85"/></g>
<line x1="285.90" y1="385.30" x2="457.90" y2="385.30" stroke="#b0b0b0" stroke-opacity="0.7" stroke-width="1.1" stroke-dasharray="4.18 1.803"/>
<line x1="285.90" y1="354.38" x2="457.90" y2="354.38" stroke="#b0b0b0" stroke-opacity="0.7" stroke-width="1.1" stroke-dasharray="4.18 1.803"/>
<line x1="285.90" y1="323.45" x2="457.90" y2="323.45" stroke="#b0b0b0" stroke-opacity="0.7" stroke-width="1.1" stroke-dasharray="4.18 1.803"/>
<line x1="285.90" y1="292.52" x2="457.90" y2="292.52" stroke="#b0b0b0" stroke-opacity="0.7" stroke-width="1.1" stroke-dasharray="4.18 1.803"/>
<line x1="285.90" y1="261.60" x2="457.90" y2="261.60" stroke="#b0b0b0" stroke-opacity="0.7" stroke-width="1.1" stroke-dasharray="4.18 1.803"/>
<line x1="293.60" y1="309.20" x2="449.93" y2="363.20" stroke="#000" stroke-width="2.1" stroke-dasharray="7.83 3.39" clip-path="url(#c11)"/>
<rect x="285.90" y="234.20" width="172.00" height="151.00" fill="none" stroke="#1c1c1c" stroke-width="1.12"/>
<line x1="293.60" y1="385.20" x2="293.60" y2="390.40" stroke="#1c1c1c" stroke-width="1.12"/>
<g font-size="15.10"><text x="282.89" y="406.10" textLength="7.81" lengthAdjust="spacingAndGlyphs">5</text><text x="291.37" y="406.10" textLength="4.24" lengthAdjust="spacingAndGlyphs">.</text><text x="296.05" y="406.10" textLength="8.27" lengthAdjust="spacingAndGlyphs">0</text></g>
<line x1="337.03" y1="385.20" x2="337.03" y2="390.40" stroke="#1c1c1c" stroke-width="1.12"/>
<g font-size="15.10"><text x="326.32" y="406.10" textLength="8.09" lengthAdjust="spacingAndGlyphs">7</text><text x="334.91" y="406.10" textLength="4.24" lengthAdjust="spacingAndGlyphs">.</text><text x="339.77" y="406.10" textLength="7.81" lengthAdjust="spacingAndGlyphs">5</text></g>
<line x1="380.45" y1="385.20" x2="380.45" y2="390.40" stroke="#1c1c1c" stroke-width="1.12"/>
<g font-size="15.10"><text x="364.95" y="406.10" textLength="7.90" lengthAdjust="spacingAndGlyphs">1</text><text x="373.84" y="406.10" textLength="8.27" lengthAdjust="spacingAndGlyphs">0</text><text x="382.50" y="406.10" textLength="4.24" lengthAdjust="spacingAndGlyphs">.</text><text x="387.18" y="406.10" textLength="8.27" lengthAdjust="spacingAndGlyphs">0</text></g>
<line x1="423.88" y1="385.20" x2="423.88" y2="390.40" stroke="#1c1c1c" stroke-width="1.12"/>
<g font-size="15.10"><text x="408.52" y="406.10" textLength="7.90" lengthAdjust="spacingAndGlyphs">1</text><text x="417.38" y="406.10" textLength="7.97" lengthAdjust="spacingAndGlyphs">2</text><text x="426.07" y="406.10" textLength="4.24" lengthAdjust="spacingAndGlyphs">.</text><text x="430.93" y="406.10" textLength="7.81" lengthAdjust="spacingAndGlyphs">5</text></g>
<line x1="280.70" y1="385.30" x2="285.90" y2="385.30" stroke="#1c1c1c" stroke-width="1.12"/>
<g font-size="15.10"><text x="267.26" y="390.00" textLength="8.27" lengthAdjust="spacingAndGlyphs">0</text></g>
<line x1="280.70" y1="354.38" x2="285.90" y2="354.38" stroke="#1c1c1c" stroke-width="1.12"/>
<g font-size="15.10"><text x="258.55" y="359.07" textLength="7.81" lengthAdjust="spacingAndGlyphs">5</text><text x="267.26" y="359.07" textLength="8.27" lengthAdjust="spacingAndGlyphs">0</text></g>
<line x1="280.70" y1="323.45" x2="285.90" y2="323.45" stroke="#1c1c1c" stroke-width="1.12"/>
<g font-size="15.10"><text x="249.47" y="328.15" textLength="7.90" lengthAdjust="spacingAndGlyphs">1</text><text x="258.37" y="328.15" textLength="8.27" lengthAdjust="spacingAndGlyphs">0</text><text x="267.26" y="328.15" textLength="8.27" lengthAdjust="spacingAndGlyphs">0</text></g>
<line x1="280.70" y1="292.52" x2="285.90" y2="292.52" stroke="#1c1c1c" stroke-width="1.12"/>
<g font-size="15.10"><text x="249.47" y="297.22" textLength="7.90" lengthAdjust="spacingAndGlyphs">1</text><text x="258.55" y="297.22" textLength="7.81" lengthAdjust="spacingAndGlyphs">5</text><text x="267.26" y="297.22" textLength="8.27" lengthAdjust="spacingAndGlyphs">0</text></g>
<line x1="280.70" y1="261.60" x2="285.90" y2="261.60" stroke="#1c1c1c" stroke-width="1.12"/>
<g font-size="15.10"><text x="249.44" y="266.30" textLength="7.97" lengthAdjust="spacingAndGlyphs">2</text><text x="258.37" y="266.30" textLength="8.27" lengthAdjust="spacingAndGlyphs">0</text><text x="267.26" y="266.30" textLength="8.27" lengthAdjust="spacingAndGlyphs">0</text></g>
<rect x="334.70" y="241.00" width="115.80" height="24.40" rx="3" ry="3" fill="#fff" stroke="#1e1e1e" stroke-width="1.35"/>
<line x1="339.90" y1="251.80" x2="368.10" y2="251.80" stroke="#000" stroke-width="2.1" stroke-dasharray="7.83 3.39"/>
<g font-size="15.10"><text x="380.33" y="257.60" textLength="4.02" lengthAdjust="spacingAndGlyphs">(</text><text x="385.56" y="257.60" textLength="6.02" lengthAdjust="spacingAndGlyphs">r</text><text x="391.93" y="257.60" textLength="10.62" lengthAdjust="spacingAndGlyphs">=</text><text x="403.15" y="257.60" textLength="5.07" lengthAdjust="spacingAndGlyphs">-</text><text x="408.44" y="257.60" textLength="8.27" lengthAdjust="spacingAndGlyphs">0</text><text x="417.09" y="257.60" textLength="4.24" lengthAdjust="spacingAndGlyphs">.</text><text x="421.95" y="257.60" textLength="7.95" lengthAdjust="spacingAndGlyphs">3</text><text x="430.85" y="257.60" textLength="7.95" lengthAdjust="spacingAndGlyphs">3</text><text x="440.25" y="257.60" textLength="4.02" lengthAdjust="spacingAndGlyphs">)</text></g>
<clipPath id="c12"><rect x="511.30" y="234.20" width="172.00" height="151.00"/></clipPath>
<g clip-path="url(#c12)" fill="#4a7fcc"><circle cx="519.1" cy="258.1" r="4.85"/><circle cx="536.5" cy="262.0" r="4.85"/><circle cx="571.2" cy="299.2" r="4.85"/><circle cx="606.0" cy="239.2" r="4.85"/><circle cx="640.7" cy="239.2" r="4.85"/><circle cx="640.7" cy="272.4" r="4.85"/><circle cx="606.0" cy="292.1" r="4.85"/><circle cx="606.0" cy="302.1" r="4.85"/><circle cx="623.3" cy="301.2" r="4.85"/><circle cx="640.7" cy="297.2" r="4.85"/><circle cx="658.1" cy="303.5" r="4.85"/><circle cx="536.5" cy="319.3" r="4.85"/><circle cx="588.6" cy="314.8" r="4.85"/><circle cx="571.2" cy="328.1" r="4.85"/><circle cx="519.1" cy="352.4" r="4.85"/><circle cx="553.9" cy="355.4" r="4.85"/><circle cx="571.2" cy="360.4" r="4.85"/><circle cx="571.2" cy="363.9" r="4.85"/><circle cx="588.6" cy="356.8" r="4.85"/><circle cx="606.0" cy="322.8" r="4.85"/><circle cx="606.0" cy="353.1" r="4.85"/><circle cx="606.0" cy="357.5" r="4.85"/><circle cx="606.0" cy="362.2" r="4.85"/><circle cx="623.3" cy="333.8" r="4.85"/><circle cx="623.3" cy="337.7" r="4.85"/><circle cx="623.3" cy="357.3" r="4.85"/><circle cx="623.3" cy="361.5" r="4.85"/><circle cx="623.3" cy="372.0" r="4.85"/><circle cx="623.3" cy="375.6" r="4.85"/><circle cx="640.7" cy="332.9" r="4.85"/><circle cx="640.7" cy="338.5" r="4.85"/><circle cx="640.7" cy="344.0" r="4.85"/><circle cx="640.7" cy="361.0" r="4.85"/><circle cx="640.7" cy="366.0" r="4.85"/><circle cx="640.7" cy="372.6" r="4.85"/><circle cx="658.1" cy="317.9" r="4.85"/><circle cx="658.1" cy="324.3" r="4.85"/><circle cx="658.1" cy="330.7" r="4.85"/><circle cx="658.1" cy="337.1" r="4.85"/><circle cx="658.1" cy="353.1" r="4.85"/><circle cx="658.1" cy="360.0" r="4.85"/><circle cx="658.1" cy="370.9" r="4.85"/><circle cx="675.5" cy="317.3" r="4.85"/><circle cx="675.5" cy="327.9" r="4.85"/><circle cx="675.5" cy="332.3" r="4.85"/><circle cx="675.5" cy="341.8" r="4.85"/><circle cx="675.5" cy="347.2" r="4.85"/><circle cx="675.5" cy="352.0" r="4.85"/><circle cx="675.5" cy="364.6" r="4.85"/><circle cx="675.5" cy="370.0" r="4.85"/><circle cx="675.5" cy="378.0" r="4.85"/></g>
<line x1="511.30" y1="385.30" x2="683.30" y2="385.30" stroke="#b0b0b0" stroke-opacity="0.7" stroke-width="1.1" stroke-dasharray="4.18 1.803"/>
<line x1="511.30" y1="354.38" x2="683.30" y2="354.38" stroke="#b0b0b0" stroke-opacity="0.7" stroke-width="1.1" stroke-dasharray="4.18 1.803"/>
<line x1="511.30" y1="323.45" x2="683.30" y2="323.45" stroke="#b0b0b0" stroke-opacity="0.7" stroke-width="1.1" stroke-dasharray="4.18 1.803"/>
<line x1="511.30" y1="292.52" x2="683.30" y2="292.52" stroke="#b0b0b0" stroke-opacity="0.7" stroke-width="1.1" stroke-dasharray="4.18 1.803"/>
<line x1="511.30" y1="261.60" x2="683.30" y2="261.60" stroke="#b0b0b0" stroke-opacity="0.7" stroke-width="1.1" stroke-dasharray="4.18 1.803"/>
<line x1="519.10" y1="311.10" x2="675.46" y2="344.50" stroke="#000" stroke-width="2.1" stroke-dasharray="7.83 3.39" clip-path="url(#c12)"/>
<rect x="511.30" y="234.20" width="172.00" height="151.00" fill="none" stroke="#1c1c1c" stroke-width="1.12"/>
<line x1="519.10" y1="385.20" x2="519.10" y2="390.40" stroke="#1c1c1c" stroke-width="1.12"/>
<g font-size="15.10"><text x="515.17" y="406.10" textLength="7.94" lengthAdjust="spacingAndGlyphs">3</text></g>
<line x1="571.22" y1="385.20" x2="571.22" y2="390.40" stroke="#1c1c1c" stroke-width="1.12"/>
<g font-size="15.10"><text x="567.13" y="406.10" textLength="8.27" lengthAdjust="spacingAndGlyphs">4</text></g>
<line x1="623.34" y1="385.20" x2="623.34" y2="390.40" stroke="#1c1c1c" stroke-width="1.12"/>
<g font-size="15.10"><text x="619.45" y="406.10" textLength="7.81" lengthAdjust="spacingAndGlyphs">5</text></g>
<line x1="675.46" y1="385.20" x2="675.46" y2="390.40" stroke="#1c1c1c" stroke-width="1.12"/>
<g font-size="15.10"><text x="671.13" y="406.10" textLength="8.56" lengthAdjust="spacingAndGlyphs">6</text></g>
<line x1="506.10" y1="385.30" x2="511.30" y2="385.30" stroke="#1c1c1c" stroke-width="1.12"/>
<g font-size="15.10"><text x="492.66" y="390.00" textLength="8.27" lengthAdjust="spacingAndGlyphs">0</text></g>
<line x1="506.10" y1="354.38" x2="511.30" y2="354.38" stroke="#1c1c1c" stroke-width="1.12"/>
<g font-size="15.10"><text x="483.95" y="359.07" textLength="7.81" lengthAdjust="spacingAndGlyphs">5</text><text x="492.66" y="359.07" textLength="8.27" lengthAdjust="spacingAndGlyphs">0</text></g>
<line x1="506.10" y1="323.45" x2="511.30" y2="323.45" stroke="#1c1c1c" stroke-width="1.12"/>
<g font-size="15.10"><text x="474.87" y="328.15" textLength="7.90" lengthAdjust="spacingAndGlyphs">1</text><text x="483.77" y="328.15" textLength="8.27" lengthAdjust="spacingAndGlyphs">0</text><text x="492.66" y="328.15" textLength="8.27" lengthAdjust="spacingAndGlyphs">0</text></g>
<line x1="506.10" y1="292.52" x2="511.30" y2="292.52" stroke="#1c1c1c" stroke-width="1.12"/>
<g font-size="15.10"><text x="474.87" y="297.22" textLength="7.90" lengthAdjust="spacingAndGlyphs">1</text><text x="483.95" y="297.22" textLength="7.81" lengthAdjust="spacingAndGlyphs">5</text><text x="492.66" y="297.22" textLength="8.27" lengthAdjust="spacingAndGlyphs">0</text></g>
<line x1="506.10" y1="261.60" x2="511.30" y2="261.60" stroke="#1c1c1c" stroke-width="1.12"/>
<g font-size="15.10"><text x="474.84" y="266.30" textLength="7.97" lengthAdjust="spacingAndGlyphs">2</text><text x="483.77" y="266.30" textLength="8.27" lengthAdjust="spacingAndGlyphs">0</text><text x="492.66" y="266.30" textLength="8.27" lengthAdjust="spacingAndGlyphs">0</text></g>
<rect x="560.10" y="241.00" width="115.80" height="24.40" rx="3" ry="3" fill="#fff" stroke="#1e1e1e" stroke-width="1.35"/>
<line x1="565.30" y1="251.80" x2="593.50" y2="251.80" stroke="#000" stroke-width="2.1" stroke-dasharray="7.83 3.39"/>
<g font-size="15.10"><text x="605.73" y="257.60" textLength="4.02" lengthAdjust="spacingAndGlyphs">(</text><text x="610.96" y="257.60" textLength="6.02" lengthAdjust="spacingAndGlyphs">r</text><text x="617.33" y="257.60" textLength="10.62" lengthAdjust="spacingAndGlyphs">=</text><text x="628.55" y="257.60" textLength="5.07" lengthAdjust="spacingAndGlyphs">-</text><text x="633.84" y="257.60" textLength="8.27" lengthAdjust="spacingAndGlyphs">0</text><text x="642.49" y="257.60" textLength="4.24" lengthAdjust="spacingAndGlyphs">.</text><text x="647.14" y="257.60" textLength="7.98" lengthAdjust="spacingAndGlyphs">2</text><text x="656.24" y="257.60" textLength="7.81" lengthAdjust="spacingAndGlyphs">5</text><text x="665.65" y="257.60" textLength="4.02" lengthAdjust="spacingAndGlyphs">)</text></g>
</svg></body></html>
